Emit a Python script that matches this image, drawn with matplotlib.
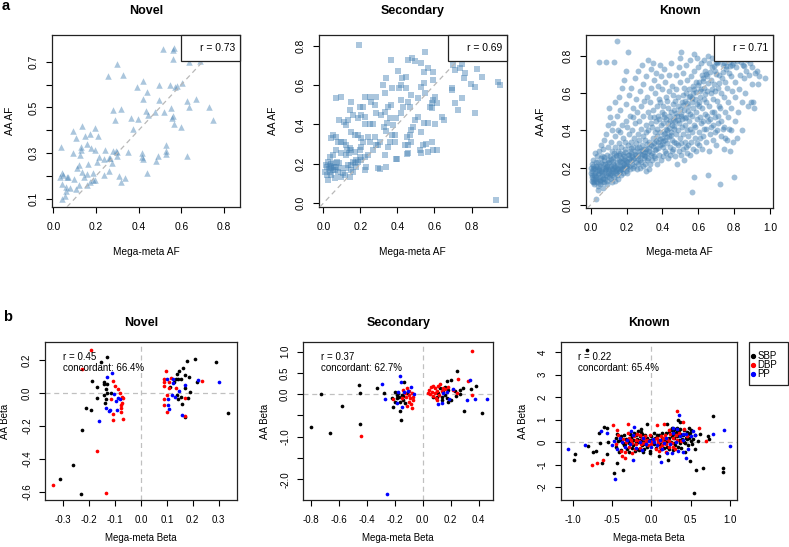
import matplotlib
matplotlib.use('Agg')
import matplotlib.pyplot as plt
from matplotlib.patches import Rectangle
from matplotlib.lines import Line2D

plt.rcParams['font.family'] = ['Liberation Sans', 'DejaVu Sans']

# ---------------- panel a: allele frequencies (mega-meta AF, AA AF) ----------------
novel_af = [
    (0.516, 0.755), (0.562, 0.751), (0.567, 0.760), (0.562, 0.710), (0.297, 0.690), (0.255, 0.639),
    (0.325, 0.642), (0.422, 0.615), (0.394, 0.588), (0.437, 0.567), (0.419, 0.538), (0.495, 0.598),
    (0.547, 0.598), (0.570, 0.588), (0.578, 0.594), (0.602, 0.608), (0.636, 0.699), (0.687, 0.703),
    (0.628, 0.528), (0.669, 0.535), (0.637, 0.500), (0.731, 0.500), (0.750, 0.444), (0.497, 0.532),
    (0.550, 0.496), (0.433, 0.486), (0.445, 0.468), (0.475, 0.482), (0.520, 0.481), (0.281, 0.488),
    (0.316, 0.491), (0.291, 0.447), (0.366, 0.453), (0.398, 0.449), (0.375, 0.405), (0.555, 0.452),
    (0.559, 0.464), (0.567, 0.427), (0.597, 0.415), (0.133, 0.418), (0.094, 0.398), (0.106, 0.367),
    (0.148, 0.377), (0.172, 0.382), (0.197, 0.412), (0.209, 0.373), (0.159, 0.339), (0.178, 0.323),
    (0.128, 0.328), (0.128, 0.315), (0.037, 0.325), (0.094, 0.301), (0.125, 0.290), (0.194, 0.312),
    (0.244, 0.312), (0.281, 0.307), (0.294, 0.310), (0.300, 0.304), (0.352, 0.306), (0.414, 0.301),
    (0.417, 0.281), (0.419, 0.272), (0.530, 0.334), (0.527, 0.307), (0.527, 0.296), (0.492, 0.287),
    (0.480, 0.266), (0.628, 0.287), (0.266, 0.278), (0.259, 0.278), (0.237, 0.275), (0.300, 0.287),
    (0.273, 0.256), (0.212, 0.285), (0.203, 0.260), (0.161, 0.252), (0.122, 0.249), (0.112, 0.233),
    (0.133, 0.218), (0.187, 0.214), (0.237, 0.204), (0.262, 0.221), (0.306, 0.200), (0.319, 0.172),
    (0.337, 0.189), (0.437, 0.214), (0.159, 0.210), (0.172, 0.174), (0.187, 0.182), (0.197, 0.182),
    (0.159, 0.160), (0.122, 0.160), (0.106, 0.142), (0.078, 0.145), (0.062, 0.196), (0.047, 0.204),
    (0.031, 0.196), (0.097, 0.186), (0.069, 0.196), (0.041, 0.164), (0.058, 0.150), (0.059, 0.134),
    (0.055, 0.113), (0.041, 0.097), (0.144, 0.196), (0.039, 0.211),
]

secondary_af = [
    (0.191, 0.803), (0.551, 0.766), (0.479, 0.739), (0.457, 0.727), (0.494, 0.722), (0.368, 0.727),
    (0.530, 0.710), (0.566, 0.685), (0.541, 0.668), (0.404, 0.671), (0.449, 0.643), (0.425, 0.634),
    (0.341, 0.638), (0.323, 0.600), (0.371, 0.583), (0.411, 0.583), (0.449, 0.583), (0.530, 0.592),
    (0.593, 0.665), (0.593, 0.626), (0.700, 0.702), (0.713, 0.677), (0.737, 0.685), (0.746, 0.705),
    (0.760, 0.634), (0.764, 0.660), (0.832, 0.680), (0.854, 0.643), (0.796, 0.604), (0.818, 0.592),
    (0.941, 0.617), (0.953, 0.600), (0.692, 0.583), (0.695, 0.575), (0.750, 0.533), (0.710, 0.507),
    (0.728, 0.474), (0.818, 0.457), (0.638, 0.440), (0.652, 0.423), (0.602, 0.541), (0.593, 0.524),
    (0.584, 0.507), (0.575, 0.490), (0.587, 0.485), (0.616, 0.507), (0.602, 0.401), (0.566, 0.406),
    (0.544, 0.406), (0.530, 0.364), (0.512, 0.440), (0.494, 0.423), (0.485, 0.389), (0.476, 0.372),
    (0.467, 0.347), (0.454, 0.338), (0.443, 0.296), (0.458, 0.296), (0.539, 0.296), (0.557, 0.299),
    (0.584, 0.313), (0.593, 0.271), (0.611, 0.271), (0.521, 0.271), (0.526, 0.254), (0.566, 0.262),
    (0.454, 0.249), (0.400, 0.225), (0.458, 0.516), (0.467, 0.490), (0.431, 0.490), (0.422, 0.457),
    (0.395, 0.431), (0.377, 0.397), (0.359, 0.431), (0.350, 0.490), (0.368, 0.499), (0.332, 0.465),
    (0.346, 0.406), (0.328, 0.389), (0.341, 0.367), (0.359, 0.313), (0.371, 0.347), (0.386, 0.347),
    (0.389, 0.310), (0.350, 0.288), (0.332, 0.245), (0.305, 0.313), (0.296, 0.296), (0.277, 0.338),
    (0.268, 0.401), (0.250, 0.401), (0.223, 0.401), (0.223, 0.440), (0.205, 0.448), (0.196, 0.490),
    (0.214, 0.490), (0.250, 0.541), (0.223, 0.541), (0.259, 0.516), (0.277, 0.499), (0.286, 0.541),
    (0.151, 0.516), (0.160, 0.448), (0.187, 0.431), (0.097, 0.541), (0.070, 0.533), (0.142, 0.474),
    (0.133, 0.423), (0.124, 0.397), (0.112, 0.414), (0.083, 0.423), (0.052, 0.347), (0.043, 0.330),
    (0.070, 0.338), (0.079, 0.313), (0.097, 0.310), (0.112, 0.313), (0.124, 0.296), (0.151, 0.364),
    (0.169, 0.347), (0.187, 0.347), (0.205, 0.330), (0.214, 0.313), (0.241, 0.338), (0.250, 0.313),
    (0.286, 0.296), (0.268, 0.271), (0.241, 0.245), (0.223, 0.237), (0.196, 0.271), (0.205, 0.288),
    (0.173, 0.262), (0.151, 0.271), (0.142, 0.279), (0.130, 0.271), (0.137, 0.254), (0.124, 0.245),
    (0.097, 0.254), (0.070, 0.271), (0.052, 0.245), (0.034, 0.237), (0.025, 0.211), (0.016, 0.195),
    (0.022, 0.186), (0.034, 0.191), (0.043, 0.181), (0.052, 0.169), (0.058, 0.186), (0.070, 0.186),
    (0.052, 0.203), (0.076, 0.211), (0.079, 0.161), (0.088, 0.178), (0.034, 0.161), (0.022, 0.144),
    (0.043, 0.144), (0.011, 0.161), (0.025, 0.118), (0.061, 0.127), (0.097, 0.135), (0.106, 0.152),
    (0.124, 0.178), (0.133, 0.195), (0.151, 0.195), (0.160, 0.211), (0.169, 0.203), (0.151, 0.169),
    (0.160, 0.161), (0.178, 0.186), (0.187, 0.211), (0.205, 0.220), (0.232, 0.186), (0.223, 0.169),
    (0.196, 0.237), (0.178, 0.220), (0.142, 0.135), (0.115, 0.144), (0.296, 0.178), (0.305, 0.174),
    (0.341, 0.186), (0.395, 0.225), (0.458, 0.254), (0.476, 0.313), (0.930, 0.017), (0.286, 0.457),
    (0.314, 0.448), (0.422, 0.524), (0.512, 0.533), (0.476, 0.550), (0.548, 0.558), (0.544, 0.609),
    (0.332, 0.558), (0.422, 0.600), (0.040, 0.200), (0.030, 0.175), (0.065, 0.170), (0.085, 0.205),
]

known_af = [
    (0.005, 0.13), (0.008, 0.16), (0.011, 0.19), (0.006, 0.22), (0.013, 0.14), (0.009, 0.18), (0.004, 0.20),
    (0.012, 0.24), (0.007, 0.15), (0.010, 0.12), (0.018, 0.11), (0.022, 0.14), (0.025, 0.17), (0.021, 0.20),
    (0.028, 0.23), (0.019, 0.16), (0.024, 0.19), (0.027, 0.13), (0.031, 0.15), (0.034, 0.18), (0.029, 0.21),
    (0.033, 0.26), (0.036, 0.12), (0.023, 0.28), (0.032, 0.03), (0.041, 0.14), (0.044, 0.17), (0.047, 0.20),
    (0.042, 0.23), (0.049, 0.11), (0.052, 0.15), (0.055, 0.18), (0.051, 0.21), (0.058, 0.25), (0.046, 0.29),
    (0.054, 0.13), (0.057, 0.32), (0.043, 0.10), (0.048, 0.77), (0.039, 0.08), (0.062, 0.12), (0.065, 0.16),
    (0.061, 0.19), (0.068, 0.22), (0.064, 0.26), (0.071, 0.14), (0.074, 0.17), (0.077, 0.20), (0.072, 0.24),
    (0.069, 0.30), (0.076, 0.35), (0.073, 0.12), (0.066, 0.09), (0.081, 0.14), (0.084, 0.16), (0.087, 0.19),
    (0.082, 0.22), (0.089, 0.27), (0.092, 0.13), (0.095, 0.17), (0.091, 0.21), (0.098, 0.24), (0.094, 0.31),
    (0.086, 0.38), (0.097, 0.43), (0.085, 0.77), (0.088, 0.11), (0.101, 0.15), (0.104, 0.18), (0.107, 0.20),
    (0.102, 0.23), (0.109, 0.26), (0.112, 0.14), (0.115, 0.17), (0.111, 0.21), (0.118, 0.29), (0.114, 0.34),
    (0.106, 0.47), (0.117, 0.40), (0.103, 0.52), (0.119, 0.12), (0.121, 0.16), (0.124, 0.19), (0.127, 0.22),
    (0.122, 0.25), (0.129, 0.28), (0.132, 0.15), (0.135, 0.18), (0.131, 0.21), (0.138, 0.31), (0.134, 0.37),
    (0.126, 0.44), (0.137, 0.55), (0.128, 0.77), (0.133, 0.13), (0.141, 0.17), (0.144, 0.20), (0.147, 0.23),
    (0.142, 0.26), (0.149, 0.16), (0.152, 0.19), (0.155, 0.24), (0.151, 0.29), (0.158, 0.33), (0.154, 0.40),
    (0.146, 0.48), (0.157, 0.58), (0.145, 0.88), (0.153, 0.14), (0.161, 0.18), (0.164, 0.21), (0.167, 0.25),
    (0.162, 0.28), (0.169, 0.16), (0.172, 0.20), (0.175, 0.23), (0.171, 0.31), (0.178, 0.36), (0.174, 0.43),
    (0.166, 0.51), (0.177, 0.63), (0.163, 0.39), (0.181, 0.17), (0.184, 0.22), (0.187, 0.26), (0.182, 0.19),
    (0.189, 0.30), (0.192, 0.24), (0.195, 0.18), (0.191, 0.34), (0.198, 0.45), (0.194, 0.54), (0.186, 0.67),
    (0.197, 0.72), (0.196, 0.21), (0.201, 0.20), (0.204, 0.23), (0.207, 0.27), (0.202, 0.17), (0.209, 0.32),
    (0.212, 0.25), (0.215, 0.21), (0.211, 0.38), (0.218, 0.48), (0.214, 0.59), (0.206, 0.82), (0.217, 0.29),
    (0.203, 0.42), (0.221, 0.19), (0.224, 0.24), (0.227, 0.28), (0.222, 0.34), (0.229, 0.22), (0.232, 0.26),
    (0.235, 0.31), (0.231, 0.40), (0.238, 0.47), (0.234, 0.52), (0.226, 0.63), (0.237, 0.20), (0.241, 0.21),
    (0.244, 0.25), (0.247, 0.29), (0.242, 0.36), (0.249, 0.44), (0.252, 0.23), (0.255, 0.27), (0.251, 0.33),
    (0.258, 0.50), (0.254, 0.57), (0.246, 0.68), (0.257, 0.19), (0.261, 0.22), (0.264, 0.26), (0.267, 0.31),
    (0.262, 0.38), (0.269, 0.45), (0.272, 0.24), (0.275, 0.29), (0.271, 0.35), (0.278, 0.53), (0.274, 0.61),
    (0.266, 0.72), (0.277, 0.20), (0.281, 0.23), (0.284, 0.27), (0.287, 0.32), (0.282, 0.41), (0.289, 0.48),
    (0.292, 0.21), (0.295, 0.25), (0.291, 0.37), (0.298, 0.56), (0.294, 0.65), (0.286, 0.75), (0.297, 0.30),
    (0.301, 0.22), (0.304, 0.26), (0.307, 0.30), (0.302, 0.35), (0.309, 0.43), (0.312, 0.24), (0.315, 0.28),
    (0.311, 0.39), (0.318, 0.50), (0.314, 0.58), (0.306, 0.69), (0.317, 0.78), (0.308, 0.18), (0.321, 0.25),
    (0.324, 0.29), (0.327, 0.34), (0.322, 0.40), (0.329, 0.47), (0.332, 0.22), (0.335, 0.32), (0.331, 0.55),
    (0.338, 0.63), (0.334, 0.73), (0.326, 0.19), (0.337, 0.44), (0.341, 0.24), (0.344, 0.28), (0.347, 0.36),
    (0.342, 0.42), (0.349, 0.51), (0.352, 0.26), (0.355, 0.33), (0.351, 0.47), (0.358, 0.60), (0.354, 0.67),
    (0.346, 0.76), (0.357, 0.39), (0.361, 0.25), (0.364, 0.30), (0.367, 0.37), (0.362, 0.45), (0.369, 0.53),
    (0.372, 0.22), (0.375, 0.34), (0.371, 0.41), (0.378, 0.57), (0.374, 0.64), (0.366, 0.71), (0.377, 0.48),
    (0.381, 0.27), (0.384, 0.32), (0.387, 0.39), (0.382, 0.46), (0.389, 0.55), (0.392, 0.24), (0.395, 0.36),
    (0.391, 0.43), (0.398, 0.62), (0.394, 0.69), (0.386, 0.75), (0.397, 0.50), (0.401, 0.26), (0.404, 0.31),
    (0.407, 0.38), (0.402, 0.44), (0.409, 0.49), (0.412, 0.29), (0.415, 0.35), (0.411, 0.47), (0.418, 0.58),
    (0.414, 0.66), (0.406, 0.73), (0.417, 0.41), (0.403, 0.53), (0.421, 0.28), (0.424, 0.33), (0.427, 0.40),
    (0.422, 0.46), (0.429, 0.52), (0.432, 0.25), (0.435, 0.37), (0.431, 0.44), (0.438, 0.61), (0.434, 0.70),
    (0.426, 0.56), (0.437, 0.48), (0.441, 0.27), (0.444, 0.31), (0.447, 0.39), (0.442, 0.45), (0.449, 0.50),
    (0.452, 0.29), (0.455, 0.35), (0.451, 0.43), (0.458, 0.59), (0.454, 0.64), (0.446, 0.76), (0.457, 0.54),
    (0.461, 0.30), (0.464, 0.34), (0.467, 0.41), (0.462, 0.47), (0.469, 0.56), (0.472, 0.26), (0.475, 0.38),
    (0.471, 0.45), (0.478, 0.62), (0.474, 0.70), (0.466, 0.51), (0.477, 0.33), (0.481, 0.22), (0.484, 0.32),
    (0.487, 0.40), (0.482, 0.48), (0.489, 0.58), (0.492, 0.29), (0.495, 0.36), (0.491, 0.44), (0.498, 0.66),
    (0.494, 0.74), (0.486, 0.53), (0.497, 0.79), (0.501, 0.27), (0.504, 0.33), (0.507, 0.42), (0.502, 0.49),
    (0.509, 0.55), (0.512, 0.30), (0.515, 0.38), (0.511, 0.46), (0.518, 0.63), (0.514, 0.71), (0.506, 0.82),
    (0.517, 0.59), (0.521, 0.24), (0.524, 0.34), (0.527, 0.43), (0.522, 0.51), (0.529, 0.60), (0.532, 0.31),
    (0.535, 0.40), (0.531, 0.47), (0.538, 0.67), (0.534, 0.75), (0.526, 0.56), (0.537, 0.28), (0.541, 0.32),
    (0.544, 0.37), (0.547, 0.45), (0.542, 0.53), (0.549, 0.62), (0.552, 0.27), (0.555, 0.41), (0.551, 0.49),
    (0.558, 0.69), (0.554, 0.78), (0.546, 0.58), (0.561, 0.34), (0.564, 0.39), (0.567, 0.48), (0.562, 0.55),
    (0.569, 0.64), (0.572, 0.30), (0.575, 0.43), (0.571, 0.52), (0.578, 0.72), (0.574, 0.81), (0.566, 0.07),
    (0.577, 0.15), (0.568, 0.60), (0.581, 0.36), (0.584, 0.42), (0.587, 0.50), (0.582, 0.57), (0.589, 0.66),
    (0.592, 0.33), (0.595, 0.46), (0.591, 0.54), (0.598, 0.74), (0.594, 0.79), (0.586, 0.29), (0.601, 0.32),
    (0.604, 0.39), (0.607, 0.47), (0.602, 0.53), (0.609, 0.61), (0.612, 0.36), (0.615, 0.44), (0.611, 0.58),
    (0.618, 0.70), (0.614, 0.76), (0.606, 0.66), (0.621, 0.30), (0.624, 0.37), (0.627, 0.45), (0.622, 0.52),
    (0.629, 0.63), (0.632, 0.41), (0.635, 0.49), (0.631, 0.57), (0.638, 0.72), (0.634, 0.78), (0.626, 0.68),
    (0.641, 0.34), (0.644, 0.41), (0.647, 0.48), (0.642, 0.55), (0.649, 0.61), (0.652, 0.16), (0.655, 0.45),
    (0.651, 0.69), (0.658, 0.76), (0.654, 0.80), (0.661, 0.29), (0.664, 0.38), (0.667, 0.46), (0.662, 0.53),
    (0.669, 0.60), (0.672, 0.42), (0.675, 0.50), (0.671, 0.67), (0.678, 0.74), (0.674, 0.79), (0.681, 0.35),
    (0.684, 0.43), (0.687, 0.50), (0.682, 0.57), (0.689, 0.65), (0.692, 0.39), (0.695, 0.47), (0.691, 0.72),
    (0.698, 0.77), (0.694, 0.61), (0.701, 0.32), (0.704, 0.40), (0.707, 0.48), (0.702, 0.56), (0.709, 0.63),
    (0.712, 0.44), (0.715, 0.70), (0.711, 0.77), (0.718, 0.53), (0.721, 0.11), (0.724, 0.37), (0.727, 0.45),
    (0.722, 0.52), (0.729, 0.60), (0.732, 0.68), (0.735, 0.75), (0.731, 0.80), (0.738, 0.41), (0.741, 0.30),
    (0.744, 0.42), (0.747, 0.50), (0.742, 0.58), (0.749, 0.66), (0.752, 0.73), (0.755, 0.79), (0.751, 0.36),
    (0.761, 0.35), (0.764, 0.47), (0.767, 0.55), (0.762, 0.63), (0.769, 0.71), (0.772, 0.77), (0.775, 0.29),
    (0.771, 0.41), (0.781, 0.40), (0.784, 0.52), (0.787, 0.61), (0.782, 0.69), (0.789, 0.75), (0.792, 0.81),
    (0.795, 0.34), (0.801, 0.15), (0.804, 0.45), (0.807, 0.58), (0.802, 0.66), (0.809, 0.74), (0.812, 0.79),
    (0.815, 0.36), (0.821, 0.50), (0.826, 0.62), (0.831, 0.70), (0.836, 0.77), (0.841, 0.40), (0.846, 0.55),
    (0.852, 0.68), (0.848, 0.75), (0.861, 0.60), (0.866, 0.72), (0.872, 0.78), (0.878, 0.53), (0.884, 0.70),
    (0.889, 0.76), (0.893, 0.55), (0.898, 0.65), (0.902, 0.74), (0.906, 0.55), (0.912, 0.52), (0.918, 0.71),
    (0.926, 0.72), (0.934, 0.65), (0.941, 0.69), (0.972, 0.68),
    (0.003, 0.17), (0.014, 0.21), (0.017, 0.125), (0.026, 0.155), (0.035, 0.205), (0.038, 0.165), (0.045, 0.185),
    (0.053, 0.135), (0.056, 0.225), (0.063, 0.175), (0.067, 0.145), (0.075, 0.255), (0.078, 0.185), (0.083, 0.205),
    (0.093, 0.155), (0.096, 0.225), (0.099, 0.195), (0.108, 0.165), (0.113, 0.245), (0.116, 0.195), (0.123, 0.175),
    (0.125, 0.235), (0.136, 0.205), (0.139, 0.265), (0.143, 0.185), (0.148, 0.215), (0.156, 0.175), (0.159, 0.265),
    (0.165, 0.235), (0.168, 0.195), (0.176, 0.215), (0.179, 0.275), (0.185, 0.245), (0.188, 0.205), (0.193, 0.285),
    (0.199, 0.235), (0.205, 0.215), (0.213, 0.265), (0.219, 0.235), (0.225, 0.305), (0.236, 0.245), (0.245, 0.275),
    (0.256, 0.305), (0.265, 0.245), (0.276, 0.275), (0.285, 0.295), (0.296, 0.265), (0.305, 0.285), (0.316, 0.325),
    (0.325, 0.305), (0.336, 0.265), (0.345, 0.315), (0.356, 0.295), (0.365, 0.345), (0.376, 0.305), (0.385, 0.355),
    (0.396, 0.325), (0.405, 0.345), (0.416, 0.385), (0.425, 0.365), (0.436, 0.415), (0.445, 0.375), (0.456, 0.455),
    (0.465, 0.425), (0.476, 0.495), (0.485, 0.455), (0.496, 0.515), (0.505, 0.475), (0.516, 0.535), (0.525, 0.465),
    (0.536, 0.545), (0.545, 0.505), (0.556, 0.585), (0.565, 0.575), (0.576, 0.625), (0.585, 0.605), (0.596, 0.645),
    (0.605, 0.555), (0.616, 0.625), (0.625, 0.665), (0.636, 0.595), (0.645, 0.705), (0.656, 0.655), (0.665, 0.715),
    (0.676, 0.625), (0.685, 0.745), (0.696, 0.705), (0.705, 0.765), (0.716, 0.655), (0.725, 0.785), (0.736, 0.715),
    (0.745, 0.765), (0.756, 0.745), (0.766, 0.785), (0.776, 0.745), (0.786, 0.785), (0.796, 0.765), (0.816, 0.775),
    (0.856, 0.745),
]

r_af = ["r = 0.73", "r = 0.69", "r = 0.71"]

# ---------------- panel b: effect sizes (mega-meta beta, AA beta) by trait ----------------
novel_sbp = [
    (-0.133, 0.218), (-0.156, 0.190), (-0.171, 0.036), (-0.189, 0.076), (-0.169, -0.031), (-0.212, -0.088),
    (-0.194, -0.102), (-0.229, -0.221), (-0.264, -0.436), (-0.313, -0.519), (-0.230, -0.610), (-0.143, 0.056),
    (-0.130, 0.056), (-0.135, 0.024), (-0.142, -0.011), (-0.130, 0.004), (-0.135, -0.037), (-0.139, -0.061),
    (-0.116, 0.000), (-0.142, 0.066), (0.176, 0.198), (0.210, 0.210), (0.290, 0.190), (0.337, -0.118),
    (0.215, 0.068), (0.161, 0.153), (0.148, 0.137), (0.138, 0.117), (0.170, 0.109), (0.185, 0.097),
    (0.155, 0.085), (0.135, 0.085), (0.128, 0.070), (0.144, 0.085), (0.144, -0.037), (0.138, -0.011),
    (0.155, -0.021), (0.170, 0.030), (0.157, -0.067), (0.170, -0.146), (0.189, 0.006), (0.112, 0.040),
    (0.183, -0.031),
]
novel_dbp = [
    (-0.194, 0.263), (-0.229, 0.145), (-0.341, -0.555), (-0.135, -0.606), (-0.169, -0.351), (-0.107, 0.076),
    (-0.100, 0.044), (-0.089, 0.024), (-0.075, -0.025), (-0.079, -0.071), (-0.076, -0.092), (-0.076, -0.112),
    (-0.110, -0.126), (-0.107, -0.162), (-0.071, -0.156), (-0.116, -0.035), (-0.083, 0.000), (-0.068, -0.031),
    (-0.075, -0.057), (0.237, 0.072), (0.097, 0.137), (0.090, 0.089), (0.090, 0.070), (0.090, 0.044),
    (0.089, -0.037), (0.090, -0.069), (0.101, -0.112), (0.109, 0.070), (0.114, 0.093), (0.108, 0.030),
    (0.134, 0.030), (0.171, -0.138), (0.170, -0.031), (0.099, -0.011),
]
novel_pp = [
    (-0.161, -0.167), (-0.130, 0.097), (-0.113, 0.123), (-0.135, -0.092), (-0.118, -0.102), (-0.124, -0.110),
    (-0.104, -0.005), (-0.088, -0.031), (-0.081, -0.037), (-0.094, -0.102), (-0.098, -0.045), (0.303, 0.068),
    (0.220, 0.080), (0.099, 0.085), (0.106, -0.037), (0.106, -0.069), (0.108, -0.098), (0.124, 0.087),
    (0.124, 0.060), (0.118, -0.011), (0.131, -0.021), (0.148, 0.012), (0.171, 0.050), (0.160, -0.134),
]

secondary_sbp = [
    (-0.800, -0.762), (-0.729, -0.003), (-0.576, -0.269), (-0.662, -0.903), (-0.457, 0.209), (-0.448, 0.037),
    (-0.448, -0.708), (-0.329, 0.138), (-0.276, 0.037), (-0.219, -0.097), (-0.214, -0.292), (-0.131, 0.295),
    (-0.162, -0.386), (-0.157, -0.606), (-0.195, 0.044), (-0.181, -0.018), (-0.174, 0.021), (-0.150, -0.018),
    (-0.167, -0.057), (-0.186, -0.097), (-0.143, -0.136), (-0.198, -0.175), (-0.126, -0.214), (-0.162, -0.175),
    (-0.114, 0.037), (-0.138, -0.041), (0.248, 0.554), (0.343, 0.115), (0.379, 0.193), (0.424, -0.449),
    (0.295, -0.386), (0.267, -0.003), (0.231, 0.084), (0.200, 0.334), (0.171, 0.311), (0.159, 0.178),
    (0.183, 0.099), (0.148, 0.060), (0.124, 0.138), (0.112, 0.021), (0.136, -0.057), (0.159, -0.018),
    (0.171, -0.097), (0.200, -0.136), (0.183, -0.175), (0.136, -0.136), (0.100, -0.057), (0.076, -0.073),
    (0.238, -0.041), (0.267, 0.099), (0.290, 0.138),
]
secondary_dbp = [
    (-0.440, -0.982), (-0.210, -0.120), (-0.138, 0.099), (-0.114, 0.138), (-0.095, 0.084), (-0.079, 0.021),
    (-0.100, -0.018), (-0.117, -0.073), (-0.090, -0.097), (-0.071, -0.136), (-0.086, -0.230), (-0.079, -0.332),
    (-0.100, -0.175), (-0.126, 0.021), (-0.150, -0.097), (-0.110, -0.277), (-0.067, -0.057), (0.352, 1.023),
    (0.255, 0.350), (0.326, 0.319), (0.355, -0.026), (0.214, 0.099), (0.048, 0.099), (0.057, 0.162),
    (0.076, 0.193), (0.088, 0.138), (0.064, 0.060), (0.088, 0.021), (0.100, 0.084), (0.112, 0.193),
    (0.124, 0.240), (0.071, -0.041), (0.095, -0.097), (0.119, -0.018), (0.143, 0.138), (0.052, 0.005),
    (0.040, 0.037), (0.136, 0.084), (0.105, -0.136), (0.159, 0.115), (0.183, 0.162), (0.243, 0.037),
]
secondary_pp = [
    (-0.288, 0.232), (-0.269, -0.112), (-0.257, -2.345), (-0.162, 0.428), (-0.157, 0.295), (-0.181, -0.198),
    (-0.150, -0.308), (-0.086, 0.162), (-0.062, -0.003), (-0.102, 0.084), (-0.133, 0.060), (-0.179, 0.060),
    (0.338, 0.334), (0.374, -0.112), (0.457, -0.104), (0.314, -0.136), (0.219, 0.123), (0.112, -0.230),
    (0.136, -0.198), (0.190, -0.112), (0.171, 0.044), (0.148, 0.021),
]

known_sbp = [
    (-0.814, 4.089), (-0.975, -0.545), (-0.983, -0.782), (-0.801, -0.159), (-0.737, -0.456), (-0.703, -0.411),
    (-0.669, 0.406), (-0.627, -0.916), (-0.602, 0.658), (-0.559, 0.614), (-0.653, -0.040), (-0.547, -0.010),
    (-0.559, -0.515), (-0.470, -1.391), (-0.432, -0.916), (-0.356, -1.228), (-0.449, 0.183), (-0.165, 0.480),
    (-0.136, 0.585), (-0.051, 0.807), (-0.017, -0.486), (0.195, 0.807), (0.258, 0.629), (0.343, 0.970),
    (0.364, 0.881), (0.331, 0.629), (0.475, 0.629), (0.508, 0.525), (0.619, 0.377), (0.716, 0.287),
    (0.729, 0.139), (0.780, 1.178), (0.907, -1.346), (0.915, -1.168), (0.661, -1.154), (0.568, -1.228),
    (0.547, -2.268), (0.492, -0.857), (0.555, -0.307), (0.597, 0.035), (0.428, -0.426), (0.102, -0.634),
    (0.216, -0.782), (0.458, 0.139),
    (-0.45, -0.20), (-0.40, 0.10), (-0.38, -0.35), (-0.35, 0.30), (-0.33, -0.10), (-0.30, 0.05), (-0.28, -0.45),
    (-0.26, 0.20), (-0.24, -0.25), (-0.22, 0.40), (-0.20, -0.05), (-0.18, 0.15), (-0.16, -0.35), (-0.14, 0.25),
    (-0.12, -0.15), (-0.10, 0.05), (-0.08, 0.30), (-0.06, -0.20), (-0.04, 0.10), (-0.02, -0.40), (0.02, 0.00),
    (0.05, 0.20), (0.08, -0.10), (0.10, 0.30), (0.12, -0.30), (0.15, 0.10), (0.18, 0.40), (0.20, -0.20),
    (0.22, 0.20), (0.25, 0.00), (0.28, 0.35), (0.30, -0.15), (0.32, 0.50), (0.35, 0.10), (0.38, -0.25),
    (0.40, 0.30), (0.42, 0.00), (0.45, 0.45), (0.48, 0.20), (0.52, -0.10), (0.55, 0.30), (-0.42, 0.05),
    (-0.31, -0.30), (-0.27, 0.35), (-0.21, -0.40), (-0.17, 0.00), (-0.13, 0.45), (-0.09, -0.30), (0.00, 0.25),
    (0.06, -0.25), (0.13, 0.15), (0.17, -0.05), (0.23, 0.45), (0.27, -0.35), (0.33, 0.25), (0.37, 0.60),
    (0.43, -0.05), (0.47, 0.35), (0.50, 0.05), (-0.36, -0.05), (-0.23, 0.10), (-0.19, 0.30), (-0.11, -0.45),
    (0.04, 0.40), (0.09, 0.10), (0.21, 0.05), (0.29, 0.20), (0.36, -0.05), (0.41, 0.55), (-0.44, 0.35),
    (-0.41, -0.45), (-0.39, 0.25), (-0.35, -0.15), (-0.32, 0.15), (-0.29, -0.05), (-0.25, 0.25), (-0.23, -0.15),
    (-0.20, 0.35), (-0.18, -0.30), (-0.15, 0.10), (-0.12, 0.35), (-0.08, -0.10), (-0.05, 0.20), (-0.01, 0.10),
    (0.03, -0.10), (0.07, 0.30), (0.11, -0.10), (0.14, 0.40), (0.16, -0.25), (0.19, 0.05), (0.22, -0.30),
    (0.26, 0.25), (0.29, -0.05), (0.31, 0.40), (0.34, -0.20), (0.37, 0.35), (0.39, 0.15), (0.44, 0.20),
    (0.46, -0.15), (0.49, 0.40), (0.53, 0.15), (0.24, 0.55), (0.27, 0.50), (0.30, 0.60), (0.35, 0.55),
    (0.33, 0.45),
]
known_dbp = [
    (-0.758, -1.020), (-0.686, -0.931), (-0.610, -0.782), (-0.492, 0.747), (-0.441, 0.525), (-0.292, 0.822),
    (0.068, 0.777), (0.161, 0.807), (0.229, 0.555), (0.322, 1.401), (0.398, 0.881), (0.449, 0.258),
    (0.602, 0.644), (0.695, 0.064),
    (-0.45, -0.10), (-0.42, 0.30), (-0.38, -0.40), (-0.36, 0.15), (-0.34, -0.70), (-0.32, 0.00), (-0.30, 0.40),
    (-0.28, -0.20), (-0.26, 0.10), (-0.24, -0.50), (-0.22, 0.25), (-0.20, -0.10), (-0.18, 0.35), (-0.16, 0.05),
    (-0.14, -0.25), (-0.12, 0.20), (-0.10, -0.05), (-0.08, 0.25), (-0.06, 0.10), (-0.04, -0.15), (-0.02, 0.30),
    (0.00, -0.10), (0.03, 0.15), (0.06, -0.30), (0.08, 0.05), (0.10, -0.40), (0.12, 0.25), (0.14, -0.15),
    (0.16, 0.00), (0.18, -0.45), (0.20, 0.15), (0.22, -0.20), (0.24, 0.35), (0.26, -0.05), (0.28, 0.20),
    (0.30, -0.30), (0.32, 0.10), (0.35, 0.40), (0.38, 0.05), (0.42, 0.60), (-0.37, -0.60), (-0.33, -0.45),
    (-0.29, 0.20), (-0.21, -0.30), (-0.15, 0.30), (-0.09, 0.15), (0.01, 0.05), (0.07, 0.20), (0.11, -0.20),
    (0.15, 0.20), (0.19, -0.10), (0.23, 0.05), (0.27, -0.20), (0.31, 0.30), (-0.25, -0.05), (-0.19, 0.10),
    (-0.13, -0.10), (-0.07, 0.00), (0.09, -0.05), (0.13, 0.05), (0.17, 0.30),
]
known_pp = [
    (-1.064, -0.307), (-0.847, -0.114), (-0.644, 0.480), (-0.568, 0.406), (-0.462, -1.643), (-0.220, 0.658),
    (-0.229, -0.782), (0.356, 1.193), (0.271, 0.629), (0.407, 0.377), (0.534, 0.480), (0.780, 0.377),
    (0.919, 0.525), (1.000, -0.159), (0.436, -0.708), (0.258, -0.486), (0.127, -0.901), (0.398, -0.456),
    (-0.50, -0.15), (-0.48, 0.05), (-0.44, -0.30), (-0.40, 0.20), (-0.37, 0.00), (-0.34, -0.20), (-0.31, 0.10),
    (-0.27, -0.10), (-0.23, 0.30), (-0.19, -0.25), (-0.15, 0.00), (-0.11, 0.20), (-0.07, -0.10), (-0.03, 0.05),
    (0.00, -0.20), (0.04, 0.00), (0.07, -0.15), (0.11, 0.10), (0.14, -0.30), (0.19, 0.20), (0.24, -0.10),
    (0.28, 0.40), (0.31, 0.00), (0.34, -0.40), (0.37, 0.25), (0.40, 0.10), (0.44, 0.35), (0.47, -0.30),
    (0.51, 0.25), (0.56, 0.30), (-0.26, 0.50), (-0.12, -0.35), (0.02, 0.15), (0.16, -0.05), (0.20, -0.50),
    (0.33, 0.60),
]

r_beta = ["r = 0.45", "r = 0.37", "r = 0.22"]
concordance = ["concordant: 66.4%", "concordant: 62.7%", "concordant: 65.4%"]
titles = ["Novel", "Secondary", "Known"]
traits = ["SBP", "DBP", "PP"]
trait_colors = ["black", "red", "blue"]

# ---------------- figure ----------------
W, H = 789, 547
fig = plt.figure(figsize=(W / 100, H / 100), dpi=100)


def rect(x0, y0, x1, y1):
    return [x0 / W, 1 - y1 / H, (x1 - x0) / W, (y1 - y0) / H]


def ftext(x, y, s, **kw):
    fig.text(x / W, 1 - y / H, s, **kw)


def style(ax, xlim, ylim, xt, xl, yt, yl, size):
    ax.set_xlim(xlim)
    ax.set_ylim(ylim)
    ax.set_xticks(xt)
    ax.set_xticklabels(xl)
    ax.set_yticks(yt)
    ax.set_yticklabels(yl, rotation=90, va='center')
    ax.tick_params(axis='x', direction='out', length=4, width=0.8, labelsize=size, pad=6.5)
    ax.tick_params(axis='y', direction='out', length=4, width=0.8, labelsize=size, pad=5.5)
    for s in ax.spines.values():
        s.set_linewidth(0.9)
        s.set_color('#222222')


a_boxes = [(52, 35, 240, 207), (318.7, 35, 506.7, 207), (585.7, 35, 773.3, 208.3)]
a_data = [novel_af, secondary_af, known_af]
a_markers = ['^', 's', 'o']
a_sizes = [22, 16, 18]
a_alpha = [0.45, 0.45, 0.5]
a_lims = [((-0.006, 0.875), (0.064, 0.817)),
          ((-0.025, 0.99), (-0.019, 0.854)),
          ((-0.028, 1.018), (-0.019, 0.913))]
a_xt = [[0, 0.2, 0.4, 0.6, 0.8], [0, 0.2, 0.4, 0.6, 0.8], [0, 0.2, 0.4, 0.6, 0.8, 1.0]]
a_yt = [[0.1, 0.2, 0.3, 0.4, 0.5, 0.6, 0.7], [0, 0.2, 0.4, 0.6, 0.8], [0, 0.2, 0.4, 0.6, 0.8]]
a_yl = [["0.1", "", "0.3", "", "0.5", "", "0.7"], None, None]
a_ylab_x = [10, 272.7, 540.7]

for i in range(3):
    x0, y0, x1, y1 = a_boxes[i]
    ax = fig.add_axes(rect(*a_boxes[i]))
    xs = [p[0] for p in a_data[i]]
    ys = [p[1] for p in a_data[i]]
    ax.scatter(xs, ys, marker=a_markers[i], s=a_sizes[i], color='#4682b4', alpha=a_alpha[i],
               linewidths=0, zorder=2)
    ax.axline((0, 0), slope=1, color='#b8b8b8', lw=0.9, ls=(0, (4, 3)), zorder=3)
    yl = a_yl[i] if a_yl[i] else ["%.1f" % v for v in a_yt[i]]
    style(ax, a_lims[i][0], a_lims[i][1], a_xt[i], ["%.1f" % v for v in a_xt[i]],
          a_yt[i], yl, 7.4)
    ax.add_patch(Rectangle((0.686, 0.849), 0.314, 0.151, transform=ax.transAxes,
                           facecolor='white', edgecolor='#222222', lw=0.9, zorder=5, clip_on=False))
    ax.text(0.975, 0.924, r_af[i], transform=ax.transAxes, ha='right', va='center',
            fontsize=7.4, zorder=6)
    cx = (x0 + x1) / 2
    ftext(cx, 10.7, titles[i], ha='center', va='center', fontsize=9, fontweight='bold')
    ftext(cx, 251.7, "Mega-meta AF", ha='center', va='center', fontsize=7.3)
    ftext(a_ylab_x[i], (y0 + y1) / 2, "AA AF", ha='center', va='center', fontsize=7.3, rotation=90)

b_boxes = [(45.3, 342.3, 236.7, 500), (303.3, 342.3, 493.3, 500), (561, 342.3, 737.3, 500)]
b_data = [[novel_sbp, novel_dbp, novel_pp],
          [secondary_sbp, secondary_dbp, secondary_pp],
          [known_sbp, known_dbp, known_pp]]
b_lims = [((-0.3695, 0.3695), (-0.649, 0.309)),
          ((-0.853, 0.504), (-2.486, 1.22)),
          ((-1.149, 1.093), (-2.57, 4.43))]
b_xt = [[-0.3, -0.2, -0.1, 0.0, 0.1, 0.2, 0.3],
        [-0.8, -0.6, -0.4, -0.2, 0.0, 0.2, 0.4],
        [-1.0, -0.5, 0.0, 0.5, 1.0]]
b_yt = [[-0.6, -0.4, -0.2, 0.0, 0.2],
        [-2.0, -1.5, -1.0, -0.5, 0.0, 0.5, 1.0],
        [-2, -1, 0, 1, 2, 3, 4]]
b_yl = [["-0.6", "-0.4", "-0.2", "0.0", "0.2"],
        ["-2.0", "", "-1.0", "", "0.0", "0.5", "1.0"],
        ["-2", "-1", "0", "1", "2", "3", "4"]]
b_ylab_x = [5.5, 265, 523]

for i in range(3):
    x0, y0, x1, y1 = b_boxes[i]
    ax = fig.add_axes(rect(*b_boxes[i]))
    ax.axhline(0, color='#c0c0c0', lw=0.9, ls=(0, (4, 3)), zorder=1)
    ax.axvline(0, color='#c0c0c0', lw=0.9, ls=(0, (4, 3)), zorder=1)
    for pts, col in zip(b_data[i], trait_colors):
        ax.scatter([p[0] for p in pts], [p[1] for p in pts], s=7, color=col,
                   linewidths=0, zorder=2)
    style(ax, b_lims[i][0], b_lims[i][1], b_xt[i], ["%.1f" % v for v in b_xt[i]],
          b_yt[i], b_yl[i], 7.0)
    ftext(x0 + 17.5, 356.7, r_beta[i], ha='left', va='center', fontsize=7.0)
    ftext(x0 + 17.5, 368.3, concordance[i], ha='left', va='center', fontsize=7.0)
    cx = (x0 + x1) / 2
    ftext(cx, 323.3, titles[i], ha='center', va='center', fontsize=9, fontweight='bold')
    ftext(cx, 538.3, "Mega-meta Beta", ha='center', va='center', fontsize=7.0)
    ftext(b_ylab_x[i], (y0 + y1) / 2, "AA Beta", ha='center', va='center', fontsize=7.0, rotation=90)

# legend for the trait colours, to the right of the last panel
fig.add_artist(Rectangle((748.7 / W, 1 - 385 / H), 39.5 / W, 43.3 / H, transform=fig.transFigure,
                         facecolor='white', edgecolor='#222222', lw=0.9))
for k, (name, col) in enumerate(zip(traits, trait_colors)):
    yy = 356 + 9 * k
    fig.add_artist(Line2D([753.3 / W], [1 - yy / H], marker='o', ms=2.8, color=col, ls='',
                          transform=fig.transFigure))
    ftext(757.5, yy, name, ha='left', va='center', fontsize=7.0)

ftext(6, 5.5, "a", ha='center', va='center', fontsize=10.5, fontweight='bold')
ftext(7.3, 317, "b", ha='center', va='center', fontsize=10.5, fontweight='bold')

fig.savefig("out.png", dpi=100)
